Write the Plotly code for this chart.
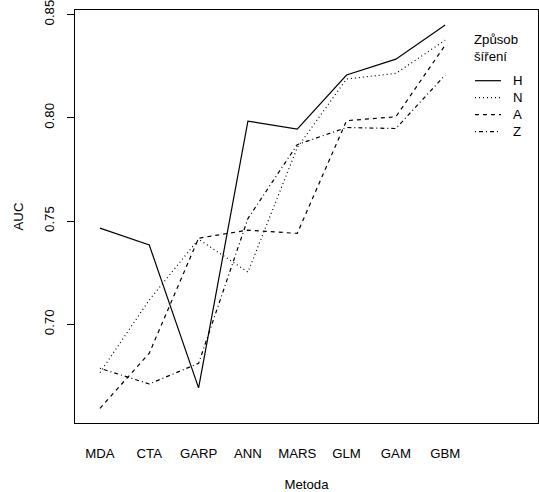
import plotly.graph_objects as go

# Mean AUC per modelling method, one series per dispersal mode
methods = ["MDA", "CTA", "GARP", "ANN", "MARS", "GLM", "GAM", "GBM"]
auc_H = [0.7466, 0.7384, 0.6692, 0.7984, 0.7945, 0.8207, 0.8284, 0.8449]
auc_N = [0.6766, 0.7118, 0.7412, 0.7253, 0.7855, 0.8188, 0.8215, 0.8376]
auc_A = [0.6593, 0.6860, 0.7417, 0.7456, 0.7440, 0.7986, 0.8005, 0.8352]
auc_Z = [0.6787, 0.6711, 0.6811, 0.7512, 0.7870, 0.7953, 0.7948, 0.8207]

series_names = ["H", "N", "A", "Z"]
series_values = [auc_H, auc_N, auc_A, auc_Z]
dashes = ["solid", "1px,3px", "4px,4px", "1px,3px,4px,3px"]

FONT = "Liberation Sans, Arial, sans-serif"
FS = 13.2
W, H = 539, 492
ML, MR, MT, MB = 75, 1, 10, 69

x_idx = list(range(1, len(methods) + 1))

fig = go.Figure()
for name, vals, dash in zip(series_names, series_values, dashes):
    fig.add_trace(go.Scatter(
        x=x_idx, y=vals, mode="lines", name=name,
        line=dict(color="black", width=1.2, dash=dash),
        showlegend=False, hoverinfo="skip",
    ))

# Hand-drawn legend to the right of the lines
plot_w = W - ML - MR
plot_h = H - MT - MB


def px_to_paper(px, py):
    return (px - ML) / plot_w, (H - MB - py) / plot_h


shapes = []
annotations = []
for text, py in [("Způsob", 40), ("šíření", 56)]:
    tx, ty = px_to_paper(472, py)
    annotations.append(dict(text=text, x=tx, y=ty, xref="paper", yref="paper",
                            xanchor="left", yanchor="middle", showarrow=False,
                            font=dict(family=FONT, size=FS, color="black")))
for i, (name, dash) in enumerate(zip(series_names, dashes)):
    py = 80.7 + i * 17
    x0, y0 = px_to_paper(475, py)
    x1, _ = px_to_paper(501, py)
    shapes.append(dict(type="line", xref="paper", yref="paper",
                       x0=x0, x1=x1, y0=y0, y1=y0,
                       line=dict(color="black", width=1.2, dash=dash)))
    lx, _ = px_to_paper(511, py)
    annotations.append(dict(text=name, x=lx, y=y0, xref="paper", yref="paper",
                            xanchor="left", yanchor="middle", showarrow=False,
                            font=dict(family=FONT, size=FS, color="black")))

fig.update_layout(
    width=W, height=H,
    margin=dict(l=ML, r=MR, t=MT, b=MB),
    paper_bgcolor="white", plot_bgcolor="white",
    font=dict(family=FONT, size=FS, color="black"),
    shapes=shapes, annotations=annotations,
    xaxis=dict(
        range=[0.494, 9.882], tickmode="array", tickvals=x_idx, ticktext=methods,
        showgrid=False, zeroline=False, showline=True, mirror=True,
        linecolor="black", linewidth=1, ticks="", ticklabelstandoff=18,
        title=dict(text="Metoda", standoff=19, font=dict(size=FS)),
    ),
    yaxis=dict(
        range=[0.6522, 0.8522], tickvals=[0.70, 0.75, 0.80, 0.85],
        ticktext=["0.70", "0.75", "0.80", "0.85"], tickangle=-90,
        ticklabeloverflow="allow",
        showgrid=False, zeroline=False, showline=True, mirror=True,
        linecolor="black", linewidth=1, ticks="outside", ticklen=7,
        tickcolor="black", tickwidth=1, ticklabelstandoff=8,
        title=dict(text="AUC", standoff=15, font=dict(size=FS)),
    ),
)

fig.write_html("out.html")
